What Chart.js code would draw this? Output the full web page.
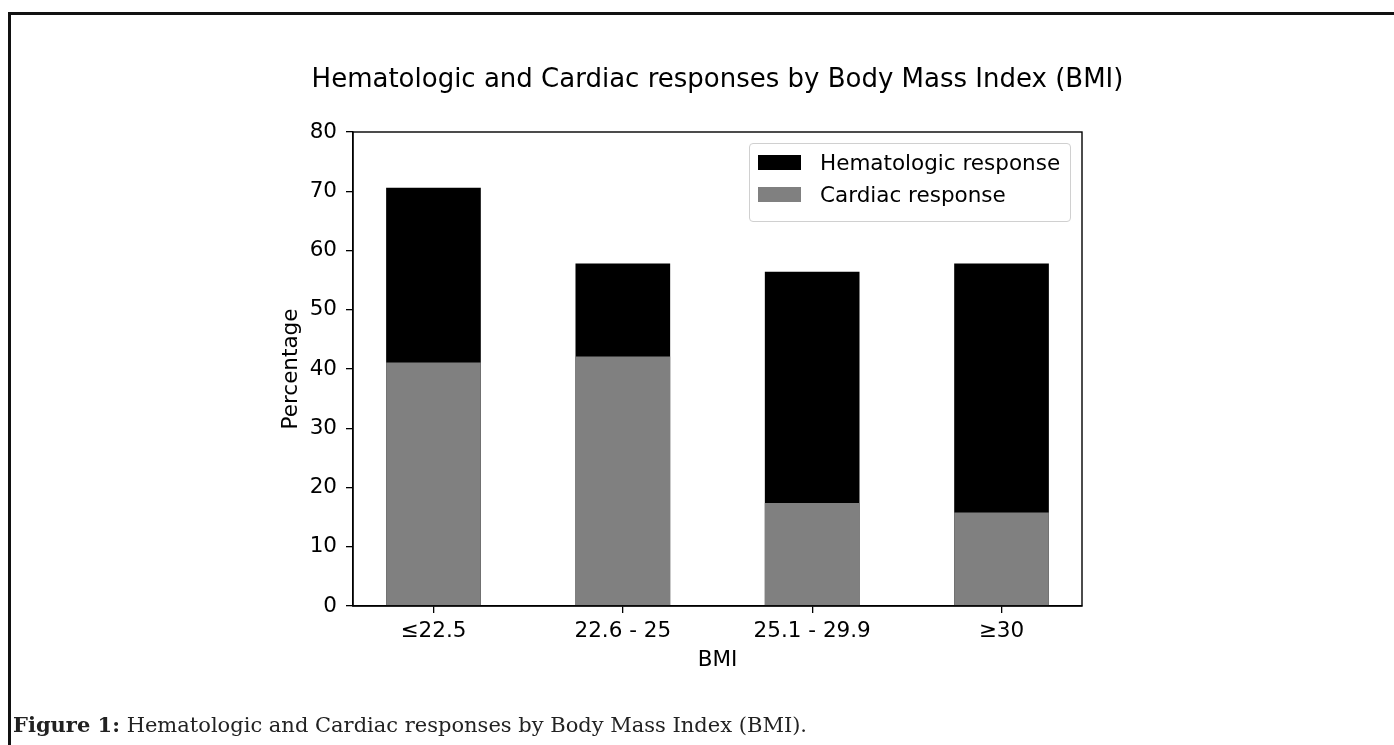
<!DOCTYPE html>
<html>
<head>
<meta charset="utf-8">
<script src="https://cdn.jsdelivr.net/npm/chart.js@4.4.1/dist/chart.umd.min.js"></script>
<style>
  html, body { margin: 0; padding: 0; background: #fff; }
  #wrap { position: relative; width: 1394px; height: 745px; overflow: hidden; }
  #frame { position: absolute; left: 8px; top: 12px; width: 1400px; height: 800px;
           border-top: 3px solid #111; border-left: 3px solid #111; }
  #chart { position: absolute; left: 0; top: 0; }
  #title { position: absolute; left: 253px; width: 929px; top: 63px; line-height: 32px;
           text-align: center; font: 26px "DejaVu Sans", sans-serif; color: #000; white-space: nowrap; }
  #legend { position: absolute; left: 749px; top: 143px; width: 322px; height: 79px;
            border: 1px solid #d0d0d0; border-radius: 4px; background: rgba(255,255,255,0.8);
            padding: 2px 0 0 8px; box-sizing: border-box; font: 21.5px "DejaVu Sans", sans-serif; }
  .row { height: 32px; display: flex; align-items: center; }
  .sw { width: 43px; height: 15px; margin-right: 19px; }
  #caption { position: absolute; left: 13px; top: 712px; line-height: 26px;
             font: 21px "DejaVu Serif", serif; color: #222; white-space: nowrap; }
</style>
</head>
<body>
<div id="wrap">
  <div id="frame"></div>
  <canvas id="chart" width="1394" height="745"></canvas>
  <div id="title">Hematologic and Cardiac responses by Body Mass Index (BMI)</div>
  <div id="legend"></div>
  <div id="caption"><b>Figure 1:</b> Hematologic and Cardiac responses by Body Mass Index (BMI).</div>
</div>
<script>
// values (percent)
const bmiGroups = ['≤22.5', '22.6 - 25', '25.1 - 29.9', '≥30'];
const hematologic = [70.6, 57.8, 56.4, 57.8];
const cardiac = [41.1, 42.1, 17.4, 15.8];
const yTicks = [0, 10, 20, 30, 40, 50, 60, 70, 80];

const toPoints = (vals) => vals.map((v, i) => ({ x: i, y: v }));
const axisFont = { family: 'DejaVu Sans', size: 21.5 };

// full box around the axes, like matplotlib spines
const boxPlugin = {
  id: 'box',
  afterDraw(chart) {
    const { ctx, chartArea: a } = chart;
    ctx.save();
    ctx.strokeStyle = '#000';
    ctx.lineWidth = 1.4;
    ctx.strokeRect(a.left, a.top, a.right - a.left, a.bottom - a.top);
    ctx.restore();
  }
};

const chart = new Chart(document.getElementById('chart'), {
  type: 'bar',
  data: {
    datasets: [
      { label: 'Hematologic response', data: toPoints(hematologic), backgroundColor: '#000000', order: 1 },
      { label: 'Cardiac response', data: toPoints(cardiac), backgroundColor: '#808080', order: 0 }
    ]
  },
  options: {
    responsive: false,
    animation: false,
    events: [],
    barPercentage: 0.5,
    categoryPercentage: 1.0,
    layout: { padding: { left: 279, right: 312, top: 132, bottom: 72 } },
    plugins: { legend: { display: false }, tooltip: { enabled: false }, title: { display: false } },
    scales: {
      x: {
        type: 'linear',
        stacked: true,
        offset: false,
        min: -0.425,
        max: 3.425,
        afterBuildTicks: (s) => { s.ticks = bmiGroups.map((_, i) => ({ value: i })); },
        afterFit: (s) => { s.height = 67; },
        ticks: {
          callback: (v) => bmiGroups[v],
          color: '#000',
          padding: 6,
          autoSkip: false,
          maxRotation: 0,
          font: axisFont
        },
        grid: { display: true, offset: false, drawOnChartArea: false, drawTicks: true, tickLength: 7, color: '#000', lineWidth: 1.3 },
        border: { display: true, color: '#000', width: 1.4 },
        title: { display: true, text: 'BMI', color: '#000', padding: 0, font: axisFont }
      },
      y: {
        min: 0,
        max: 80,
        afterBuildTicks: (s) => { s.ticks = yTicks.map(v => ({ value: v })); },
        afterFit: (s) => { s.width = 74; },
        ticks: { color: '#000', padding: 9, font: axisFont },
        grid: { display: true, drawOnChartArea: false, drawTicks: true, tickLength: 7, color: '#000', lineWidth: 1.3 },
        border: { display: true, color: '#000', width: 1.4 },
        title: { display: true, text: 'Percentage', color: '#000', padding: 0, font: axisFont }
      }
    }
  },
  plugins: [boxPlugin]
});

// legend inside the axes, top right; hematologic listed first
const legendEl = document.getElementById('legend');
chart.data.datasets.forEach((ds) => {
  const row = document.createElement('div');
  row.className = 'row';
  const sw = document.createElement('span');
  sw.className = 'sw';
  sw.style.background = ds.backgroundColor;
  const txt = document.createElement('span');
  txt.textContent = ds.label;
  row.appendChild(sw);
  row.appendChild(txt);
  legendEl.appendChild(row);
});
</script>
</body>
</html>
